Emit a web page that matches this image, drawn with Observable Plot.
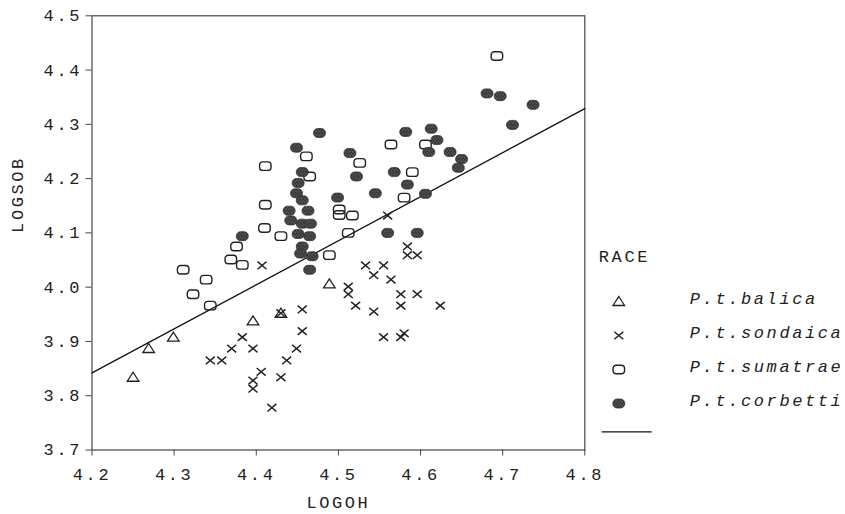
<!DOCTYPE html>
<html>
<head>
<meta charset="utf-8">
<script src="https://cdn.jsdelivr.net/npm/d3@7"></script>
<script src="https://cdn.jsdelivr.net/npm/@observablehq/plot@0.6"></script>
<style>
  body { margin: 0; background: white; }
  #wrap { position: relative; width: 845px; height: 514px; overflow: hidden; }
  #legend { position: absolute; left: 590px; top: 230px; }
  svg text { letter-spacing: 2.6px; }
</style>
</head>
<body>
<div id="wrap"><div id="main"></div><div id="legend"></div></div>
<script>
// ---- data ----
const races = ["P.t.balica", "P.t.sondaica", "P.t.sumatrae", "P.t.corbetti"];

const balicaX = [4.250, 4.269, 4.299, 4.396, 4.430, 4.489];
const balicaY = [3.834, 3.887, 3.908, 3.938, 3.952, 4.006];

const sondaicaX = [4.560, 4.584, 4.584, 4.596, 4.533, 4.555, 4.543, 4.564, 4.512, 4.512,
                   4.576, 4.596, 4.521, 4.543, 4.576, 4.624, 4.555, 4.576, 4.580, 4.407,
                   4.456, 4.456, 4.449, 4.437, 4.406, 4.430, 4.396, 4.396, 4.419, 4.396,
                   4.383, 4.370, 4.344, 4.358, 4.430];
const sondaicaY = [4.132, 4.075, 4.059, 4.059, 4.040, 4.040, 4.022, 4.014, 4.001, 3.987,
                   3.987, 3.987, 3.966, 3.955, 3.966, 3.966, 3.908, 3.908, 3.915, 4.040,
                   3.959, 3.919, 3.887, 3.865, 3.844, 3.834, 3.828, 3.813, 3.778, 3.887,
                   3.908, 3.887, 3.865, 3.865, 3.952];

const sumatraeX = [4.693, 4.564, 4.606, 4.461, 4.526, 4.411, 4.465, 4.590, 4.411, 4.501,
                   4.501, 4.517, 4.580, 4.410, 4.430, 4.512, 4.489, 4.376, 4.369, 4.383,
                   4.311, 4.339, 4.323, 4.344];
const sumatraeY = [4.426, 4.263, 4.263, 4.241, 4.229, 4.223, 4.204, 4.212, 4.152, 4.143,
                   4.133, 4.132, 4.165, 4.109, 4.094, 4.100, 4.059, 4.075, 4.051, 4.041,
                   4.032, 4.014, 3.987, 3.966];

const corbettiX = [4.681, 4.697, 4.737, 4.712, 4.613, 4.582, 4.620, 4.610, 4.636, 4.650,
                   4.646, 4.568, 4.584, 4.606, 4.560, 4.596, 4.477, 4.449, 4.514, 4.456,
                   4.451, 4.522, 4.449, 4.456, 4.499, 4.545, 4.440, 4.463, 4.442, 4.456,
                   4.466, 4.451, 4.465, 4.456, 4.454, 4.468, 4.465, 4.383];
const corbettiY = [4.357, 4.352, 4.336, 4.299, 4.292, 4.286, 4.271, 4.249, 4.249, 4.236,
                   4.220, 4.212, 4.189, 4.172, 4.100, 4.100, 4.284, 4.257, 4.247, 4.212,
                   4.192, 4.204, 4.173, 4.160, 4.165, 4.173, 4.141, 4.141, 4.123, 4.117,
                   4.117, 4.098, 4.094, 4.075, 4.062, 4.057, 4.032, 4.094];

const fitX = [4.2, 4.8];
const fitY = [3.842, 4.329];

const xTicks = [4.2, 4.3, 4.4, 4.5, 4.6, 4.7, 4.8];
const yTicks = [3.7, 3.8, 3.9, 4.0, 4.1, 4.2, 4.3, 4.4, 4.5];
const xLabel = "LOGOH";
const yLabel = "LOGSOB";
const legendTitle = "RACE";

// ---- tables ----
const toRows = (xs, ys) => xs.map((x, i) => ({x, y: ys[i]}));
const balica = toRows(balicaX, balicaY);
const sondaica = toRows(sondaicaX, sondaicaY);
const sumatrae = toRows(sumatraeX, sumatraeY);
const corbetti = toRows(corbettiX, corbettiY);
const fit = toRows(fitX, fitY);

// ---- symbols ----
const symTriangle = {draw(c) { c.moveTo(0, -5); c.lineTo(5.8, 4); c.lineTo(-5.8, 4); c.closePath(); }};
const symCross = {draw(c) { c.moveTo(-4.5, -3.8); c.lineTo(4.5, 3.8); c.moveTo(-4.5, 3.8); c.lineTo(4.5, -3.8); }};
function roundRect(w, h, r) {
  return {draw(c) {
    const x0 = -w / 2, y0 = -h / 2, x1 = w / 2, y1 = h / 2;
    c.moveTo(x0 + r, y0);
    c.lineTo(x1 - r, y0); c.arcTo(x1, y0, x1, y0 + r, r);
    c.lineTo(x1, y1 - r); c.arcTo(x1, y1, x1 - r, y1, r);
    c.lineTo(x0 + r, y1); c.arcTo(x0, y1, x0, y1 - r, r);
    c.lineTo(x0, y0 + r); c.arcTo(x0, y0, x0 + r, y0, r);
    c.closePath();
  }};
}
const symBox = roundRect(11.5, 8.5, 3.2);
const symBlob = roundRect(12, 9, 4.3);

const styleFor = {
  "P.t.balica": {symbol: symTriangle, fill: "none", stroke: "#222", strokeWidth: 1.3},
  "P.t.sondaica": {symbol: symCross, fill: "none", stroke: "#222", strokeWidth: 1.5},
  "P.t.sumatrae": {symbol: symBox, fill: "none", stroke: "#222", strokeWidth: 1.4},
  "P.t.corbetti": {symbol: symBlob, fill: "url(#hatch)", stroke: "#333", strokeWidth: 0.8}
};

function addDefs(svg) {
  const defs = d3.select(svg).insert("defs", ":first-child");
  const p = defs.append("pattern").attr("id", "hatch").attr("patternUnits", "userSpaceOnUse")
    .attr("width", 3).attr("height", 4);
  p.append("rect").attr("width", 3).attr("height", 4).attr("fill", "#262626");
  p.append("path").attr("d", "M0,4 L1.5,0 L3,4").attr("fill", "none").attr("stroke", "#7a7a7a").attr("stroke-width", 0.6);
}

const font = {fontFamily: "'Liberation Mono', 'DejaVu Sans Mono', monospace", fontSize: "17px", background: "white", color: "#222"};

const main = Plot.plot({
  width: 845, height: 514,
  marginLeft: 91.5, marginRight: 260.7, marginTop: 15.3, marginBottom: 64.5,
  x: {domain: [4.2, 4.8]},
  y: {domain: [3.7, 4.5]},
  style: font,
  marks: [
    Plot.frame({stroke: "#444", strokeWidth: 1.2}),
    Plot.axisX({ticks: xTicks, tickFormat: d => d.toFixed(1), tickSize: 6, tickPadding: 12, label: null, stroke: "#444"}),
    Plot.axisY({ticks: yTicks, tickFormat: d => d.toFixed(1), tickSize: 6, tickPadding: 4, label: null, stroke: "#444"}),
    Plot.text([xLabel], {frameAnchor: "bottom", dy: 58, text: d => d}),
    Plot.text([yLabel], {frameAnchor: "left", rotate: -90, dx: -74.5, text: d => d}),
    Plot.line(fit, {x: "x", y: "y", stroke: "#111", strokeWidth: 1.3}),
    Plot.dot(balica, {x: "x", y: "y", ...styleFor["P.t.balica"]}),
    Plot.dot(sondaica, {x: "x", y: "y", ...styleFor["P.t.sondaica"]}),
    Plot.dot(sumatrae, {x: "x", y: "y", ...styleFor["P.t.sumatrae"]}),
    Plot.dot(corbetti, {x: "x", y: "y", ...styleFor["P.t.corbetti"]})
  ]
});
addDefs(main);
document.getElementById("main").append(main);

const legend = Plot.plot({
  width: 255, height: 220,
  marginLeft: 0, marginRight: 0, marginTop: 0, marginBottom: 0,
  y: {type: "point", domain: races, range: [70, 173.4], padding: 0, axis: null},
  style: font,
  marks: [
    Plot.text([legendTitle], {frameAnchor: "top-left", dx: 8.3, dy: 25.7, lineAnchor: "middle", text: d => d, textAnchor: "start"}),
    ...races.map(r => Plot.dot([r], {y: d => d, frameAnchor: "left", dx: 28.3, ...styleFor[r]})),
    Plot.text(races, {y: d => d, frameAnchor: "left", dx: 99.3, dy: -3, text: d => d, textAnchor: "start", fontStyle: "italic"}),
    Plot.ruleY([races[3]], {y: d => d, dy: 28.3, insetLeft: 11.7, insetRight: 193.3, stroke: "#111", strokeWidth: 1.2})
  ]
});
addDefs(legend);
document.getElementById("legend").append(legend);
</script>
</body>
</html>
